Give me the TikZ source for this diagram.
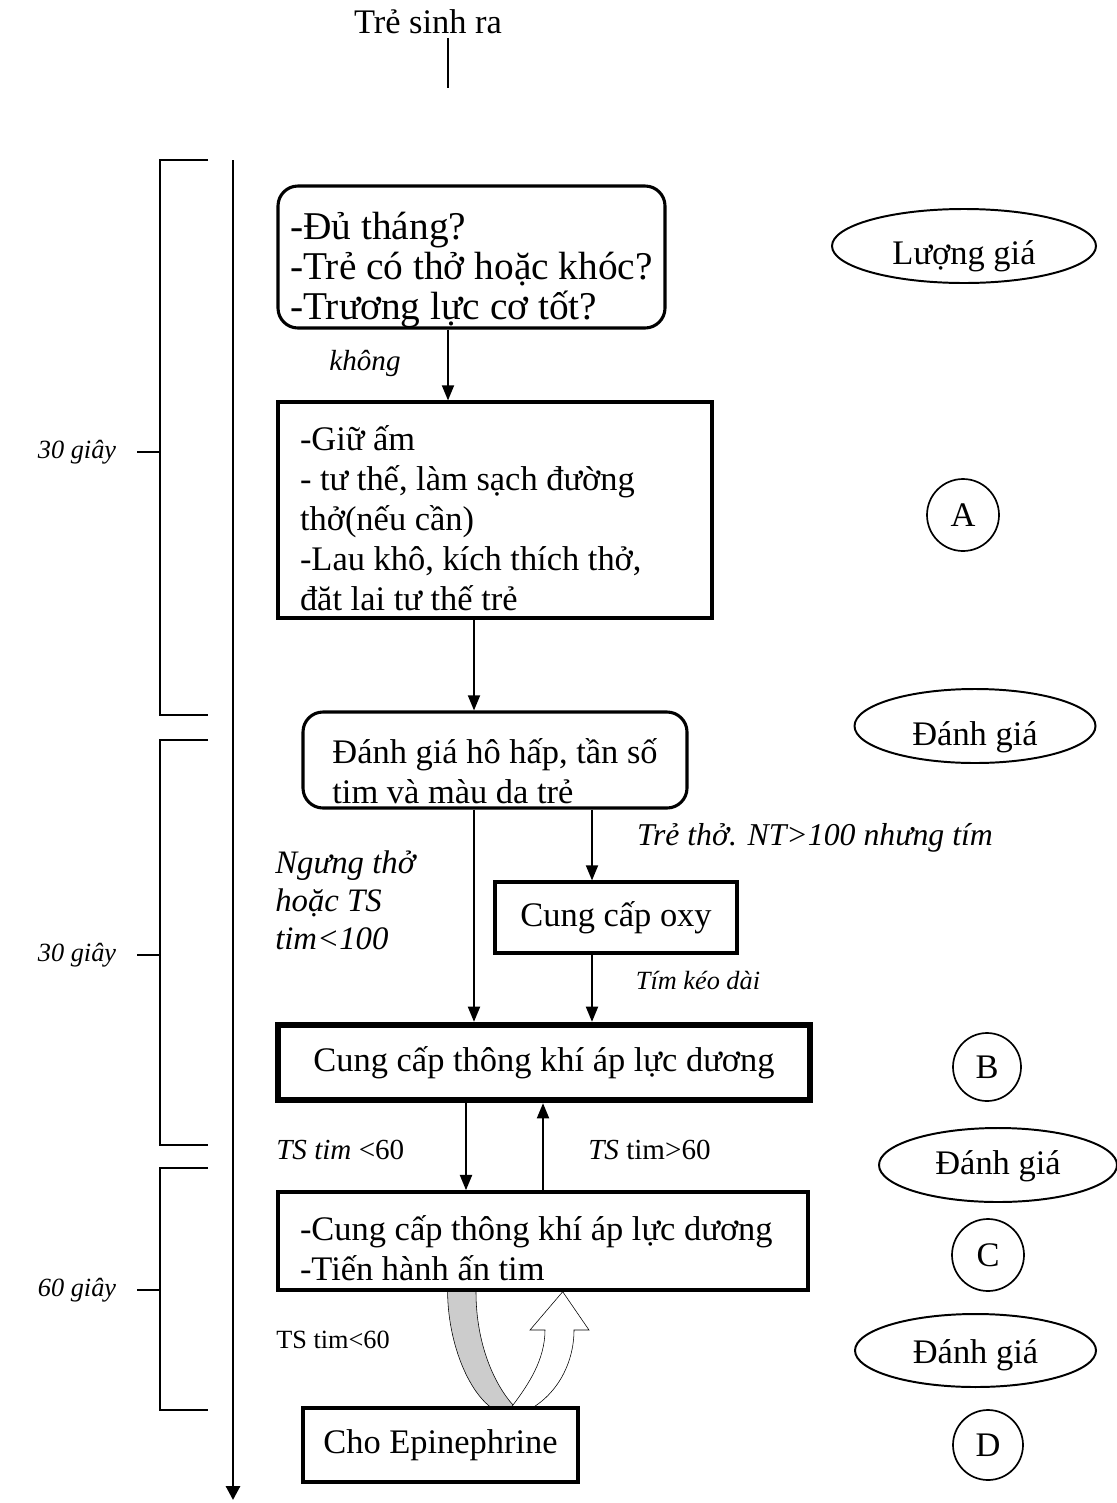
\documentclass[tikz,border=0pt]{standalone}
\usepackage{fontspec}
\setmainfont{Liberation Serif}
\usetikzlibrary{arrows.meta,positioning,shapes.geometric,backgrounds}

\newcommand{\bigf}{\fontsize{24.5}{28.5}\selectfont}
\newcommand{\notef}{\fontsize{23.3}{27}\selectfont}
\newcommand{\midf}{\fontsize{20.7}{24}\selectfont}
\newcommand{\smallf}{\fontsize{18.7}{22}\selectfont}
\newcommand{\lift}[1]{\rule{0pt}{#1}}

\begin{document}
\begin{tikzpicture}[
  box/.style={draw, line width=2.2pt, fill=white, inner sep=0pt, font=\bigf},
  roundbox/.style={box, rounded corners=0.5cm},
  arr/.style={-{Triangle[width=0.3cm,length=0.38cm]}, line width=1.4pt},
  tag/.style={draw, line width=1.4pt, ellipse, inner sep=0pt, minimum height=1.85cm, text depth=0pt, font=\bigf},
  letter/.style={draw, line width=1.2pt, circle, inner sep=0pt, minimum size=1.8cm, font=\bigf},
  note/.style={inner sep=0pt, font=\midf\itshape},
]
\useasboundingbox (0,0) rectangle (27.925,-37.575);

% Define the nodes
\node (born) [inner sep=0pt, font=\bigf] at (10.7,-0.55) {Trẻ sinh ra};
\node (check) [roundbox, font={\fontsize{28}{28.45}\selectfont}, minimum width=9.675cm, minimum height=3.55cm, align=left] at (11.7875,-6.425) {\lift{37.5pt}-Đủ tháng?\\-Trẻ có thở hoặc khóc?\\-Trương lực cơ tốt?};
\node (warm) [box, text width=9.75cm, inner xsep=0.55cm, minimum height=5.4cm, align=flush left] at (12.375,-12.75) {\lift{29.6pt}-Giữ ấm\\- tư thế, làm sạch đường\\thở(nếu cần)\\-Lau khô, kích thích thở,\\đăt lai tư thế trẻ};
\node (assess) [roundbox, minimum width=9.6cm, minimum height=2.4cm, align=left] at (12.375,-19) {\lift{34pt}Đánh giá hô hấp, tần số\\tim và màu da trẻ};
\node (oxy) [box, minimum width=6.05cm, minimum height=1.775cm] at (15.4,-22.9375) {Cung cấp oxy};
\node (ppv) [box, line width=4.5pt, minimum width=13.3cm, minimum height=1.875cm] at (13.6,-26.5625) {Cung cấp thông khí áp lực dương};
\node (cpr) [box, line width=2.6pt, text width=12.15cm, inner xsep=0.55cm, minimum height=2.45cm, align=flush left] at (13.575,-31.025) {\lift{28.2pt}-Cung cấp thông khí áp lực dương\\-Tiến hành ấn tim};
\node (epi) [box, minimum width=6.875cm, minimum height=1.85cm] at (11.0125,-36.125) {Cho Epinephrine};

% Right column
\node (eval0) [tag, minimum width=6.6cm, text height=25.8pt] at (24.1,-6.15) {Lượng giá};
\node (stepA) [letter] at (24.075,-12.875) {A};
\node (eval1) [tag, minimum width=6.025cm, text height=27.2pt] at (24.375,-18.15) {Đánh giá};
\node (stepB) [letter, minimum size=1.7cm] at (24.675,-26.675) {B};
\node (eval2) [tag, minimum width=5.95cm, text height=13pt] at (24.95,-29.125) {Đánh giá};
\node (stepC) [letter] at (24.7,-31.375) {C};
\node (eval3) [tag, minimum width=6.025cm, minimum height=1.825cm, text height=18.7pt] at (24.3875,-33.7625) {Đánh giá};
\node (stepD) [letter, minimum size=1.75cm] at (24.7,-36.125) {D};

% Labels
\node (no) [note] at (9.125,-9.075) {không};
\node (apnea) [note, font=\notef\itshape, align=left, anchor=west] at (6.875,-22.5) {Ngưng thở\\hoặc TS\\tim<100};
\node (cyan) [note, font={\fontsize{22.6}{26}\selectfont\itshape}] at (20.375,-20.95) {Trẻ thở. NT>100 nhưng tím};
\node (longcyan) [note, font=\smallf\itshape] at (17.45,-24.5) {Tím kéo dài};
\node (low) [note, anchor=west] at (6.9,-28.75) {TS tim \upshape<60};
\node (high) [note, anchor=west] at (14.7,-28.75) {TS \upshape tim>60};
\node (low2) [note, font=\smallf, anchor=west] at (6.9,-33.5) {TS tim<60};

% Columns for the connectors
\coordinate (colA) at (11.2,0);
\coordinate (colB) at (11.85,0);
\coordinate (colC) at (14.8,0);
\coordinate (colD) at (11.65,0);
\coordinate (colE) at (13.575,0);

% Connect the nodes
\coordinate (bornend) at (11.2,-2.2);
\draw[line width=1.2pt] (bornend |- 0,-0.95) -- (bornend);
\draw[arr] (check.south -| colA) -- (warm.north -| colA);
\draw[arr] (warm.south -| colB) -- (assess.north -| colB);
\draw[arr] (assess.south -| colB) -- (ppv.north -| colB);
\draw[arr] (assess.south -| colC) -- (oxy.north -| colC);
\draw[arr] (oxy.south -| colC) -- (ppv.north -| colC);
\draw[arr] (ppv.south -| colD) -- (cpr.north -| colD);
\draw[arr] (cpr.north -| colE) -- (ppv.south -| colE);

% Time line and brackets
\coordinate (tltop) at (5.825,-4);
\coordinate (tlend) at (5.825,-37.5);
\draw[line width=2.1pt, -{Triangle[width=0.35cm,length=0.35cm]}] (tltop) -- (tlend);
\foreach \ya/\yb/\ym/\secs in {4/17.875/11.3/30, 18.5/28.625/23.875/30, 29.2/35.25/32.25/60} {
  \draw[line width=1.3pt] (5.2,-\ya) -- (4,-\ya) -- (4,-\yb) -- (5.2,-\yb);
  \draw[line width=1.3pt] (3.425,-\ym) -- (4,-\ym);
  \node[inner sep=0pt, font=\smallf\itshape] at (1.925,-\ym) {\secs{} giây};
}

% Curved arrow between cpr and epi
\begin{scope}[on background layer, line width=1pt]
\fill[white] (0,0) rectangle (27.925,-37.575);
\draw[fill=black!20] (11.19,-32.0) -- (11.19,-32.3) .. controls (11.2,-33.75) and (11.875,-35.2) .. (12.625,-35.35)
  -- (12.825,-35.125) .. controls (12.375,-34.625) and (11.9,-33.625) .. (11.9,-32.3) -- (11.9,-32.0) -- cycle;
\draw[fill=white] (12.825,-35.125) .. controls (13.2,-34.625) and (13.625,-34.0) .. (13.625,-33.25)
  -- (13.25,-33.25) -- (14.0675,-32.2925) -- (14.725,-33.25) -- (14.35,-33.25)
  .. controls (14.35,-34.125) and (13.875,-35.0) .. (13.0,-35.35) -- (12.7,-35.35) -- cycle;
\end{scope}
\end{tikzpicture}
\end{document}
